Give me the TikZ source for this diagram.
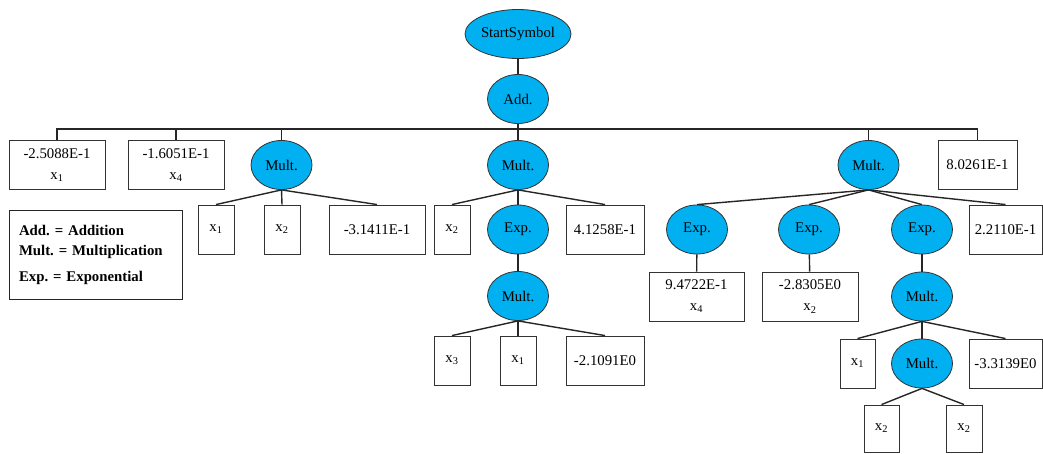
\documentclass[tikz,border=0pt]{standalone}
\usepackage{fontspec}
\setmainfont{Liberation Serif}
\usetikzlibrary{shapes.geometric}
\definecolor{opblue}{RGB}{0,176,240}
\tikzset{
  op/.style={ellipse, draw=black!80, fill=opblue, line width=0.8pt, inner sep=0pt,
             minimum width=61pt, minimum height=49pt},
  leaf/.style={rectangle, draw=black!80, line width=0.9pt, inner sep=0pt, fill=white,
               minimum height=49pt, align=center},
  link/.style={line width=1.4pt, draw=black!85},
  wire/.style={link}
}
\newcommand{\xv}[1]{x\textsubscript{#1}}
\frenchspacing
\begin{document}
\begin{tikzpicture}[x=1pt, y=-1pt, font=\fontsize{14.8}{21}\selectfont]
\useasboundingbox (0,0) rectangle (1043,453);

% root and the addition node
\node[op, minimum width=106pt] (start) at (518,34) {StartSymbol};
\node[op] (add) at (518,99) {Add.};
\coordinate (bus) at (518,129);

% terms of the sum
\node[leaf, minimum width=96pt] (t1) at (57,165) {-2.5088E-1\\\xv{1}};
\node[leaf, minimum width=96pt] (t2) at (176,165) {-1.6051E-1\\\xv{4}};
\node[op] (m1) at (281.5,165) {Mult.};
\node[op] (m2) at (518,165) {Mult.};
\node[op] (m3) at (868.5,165) {Mult.};
\node[leaf, minimum width=79pt] (t8) at (977.5,165) {8.0261E-1};

% first product
\node[leaf, minimum width=36pt] (m1a) at (216,229.5) {\xv{1}};
\node[leaf, minimum width=36pt] (m1b) at (282,229.5) {\xv{2}};
\node[leaf, minimum width=96pt] (m1c) at (377,229.5) {-3.1411E-1};

% second product
\node[leaf, minimum width=36pt] (m2a) at (452,229.5) {\xv{2}};
\node[op] (e1) at (518,229.5) {Exp.};
\node[leaf, minimum width=78pt] (m2c) at (605,229.5) {4.1258E-1};
\node[op] (m4) at (518,296) {Mult.};
\node[leaf, minimum width=36pt] (m4a) at (452,360.5) {\xv{3}};
\node[leaf, minimum width=36pt] (m4b) at (518,360.5) {\xv{1}};
\node[leaf, minimum width=78pt] (m4c) at (605,360.5) {-2.1091E0};

% third product
\node[op] (e2) at (697,229.5) {Exp.};
\node[op] (e3) at (809,229.5) {Exp.};
\node[op] (e4) at (922,229.5) {Exp.};
\node[leaf, minimum width=73pt] (m3d) at (1005.5,229.5) {2.2110E-1};
\node[leaf, minimum width=95pt] (e2a) at (696.5,296.5) {9.4722E-1\\\xv{4}};
\node[leaf, minimum width=96pt] (e3a) at (810,296.5) {-2.8305E0\\\xv{2}};
\node[op] (m5) at (922,296.5) {Mult.};
\node[leaf, minimum width=35pt] (m5a) at (857.5,363.5) {\xv{1}};
\node[op] (m6) at (922,363.5) {Mult.};
\node[leaf, minimum width=73pt] (m5c) at (1005.5,363.5) {-3.3139E0};
\node[leaf, minimum width=35pt, minimum height=47pt] (m6a) at (881.5,428.5) {\xv{2}};
\node[leaf, minimum width=36pt, minimum height=47pt] (m6b) at (964,428.5) {\xv{2}};

% legend
\node[rectangle, draw=black!85, line width=0.9pt, minimum width=173pt, minimum height=89pt,
      inner sep=0pt, text width=153pt, align=left, font=\fontsize{14.8}{20}\selectfont\bfseries]
  (legend) at (95.5,254.5)
  {Add. = Addition\\Mult. = Multiplication\\[6pt]Exp. = Exponential};

% connectors
\draw[link] (start) -- (add);
\draw[wire] (add) -- (bus);
\foreach \c in {t1,t2,m1,m2,m3,t8}
  \draw[wire] (bus) -| (\c.north);
\foreach \c in {m1a,m1b,m1c}
  \draw[link] (m1.south) -- (\c.north);
\foreach \c in {m2a,e1,m2c}
  \draw[link] (m2.south) -- (\c.north);
\draw[link] (e1) -- (m4);
\foreach \c in {m4a,m4b,m4c}
  \draw[link] (m4.south) -- (\c.north);
\foreach \c in {e2,e3,e4,m3d}
  \draw[link] (m3.south) -- (\c.north);
\draw[link] (e2) -- (e2a);
\draw[link] (e3) -- (e3a);
\draw[link] (e4) -- (m5);
\foreach \c in {m5a,m6,m5c}
  \draw[link] (m5.south) -- (\c.north);
\foreach \c in {m6a,m6b}
  \draw[link] (m6.south) -- (\c.north);
\end{tikzpicture}
\end{document}
